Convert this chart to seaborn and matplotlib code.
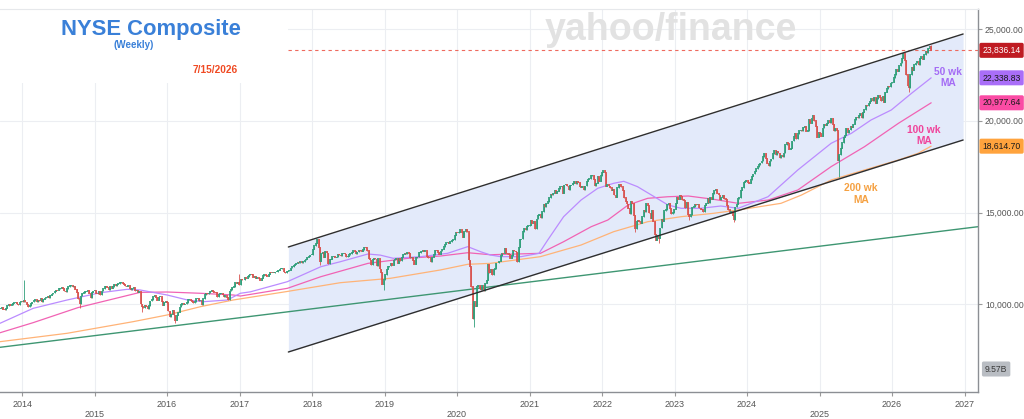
import numpy as np
import pandas as pd
import matplotlib
matplotlib.use("Agg")
import matplotlib.pyplot as plt
import matplotlib.dates as mdates
from matplotlib.patches import Rectangle
import seaborn as sns

# ---------------- data (weekly closes, Fridays from 2013-09-13) ----------------
c2013 = [9760, 9840, 9730, 9700, 9780, 9930, 9990, 9950, 9980, 10060, 10080, 10110, 10020, 9960, 10120, 10180]
c2014 = [10150, 10190, 10120, 9980, 9880, 9930, 10060, 10130, 10200, 10250, 10120, 10230, 10180,
         10300, 10120, 10280, 10350, 10380, 10420, 10350, 10480, 10560, 10620, 10700, 10780, 10760,
         10850, 10880, 10900, 10870, 10720, 10680, 10850, 10960, 11020, 11050, 10950, 11000, 10820,
         10650, 10300, 10020, 10450, 10600, 10640, 10700, 10720, 10760, 10600, 10350, 10650, 10720]
c2015 = [10750, 10600, 10580, 10700, 10520, 10720, 10850, 10980, 11000, 10930, 10800, 10950, 10880,
         10960, 11080, 11000, 11080, 11120, 11180, 11220, 11150, 11080, 11000, 10980, 11020, 10880,
         10800, 10850, 10900, 10720, 10760, 10650, 10680, 10020, 9880, 9800, 9960, 9900, 9750,
         9920, 10180, 10260, 10420, 10460, 10380, 10220, 10400, 10410, 10150, 9950, 10100, 10180]
c2016 = [10080, 9640, 9330, 9460, 9650, 9420, 9120, 9400, 9560, 9850, 9980, 10060, 10000,
         10020, 10080, 10250, 10280, 10220, 10160, 10080, 10150, 10300, 10320, 10180, 10200, 9980,
         10300, 10520, 10600, 10580, 10620, 10700, 10740, 10680, 10660, 10650, 10400, 10560, 10600, 10620,
         10500, 10420, 10460, 10380, 10250, 10720, 10800, 10920, 10960, 11180, 11150, 11180, 11060]
c2017 = [11360, 11320, 11330, 11450, 11420, 11500, 11600, 11640, 11620, 11480, 11540, 11420, 11450,
         11400, 11300, 11420, 11560, 11620, 11560, 11520, 11640, 11720, 11700, 11720, 11700, 11760,
         11770, 11860, 11920, 11950, 11960, 11760, 11720, 11800, 11820, 11850, 11980, 12050, 12120,
         12180, 12240, 12300, 12270, 12320, 12260, 12330, 12420, 12460, 12560, 12620, 12680, 12700]
c2018 = [13000, 13200, 13330, 13560, 13100, 12350, 12760, 12820, 12560, 12880, 12800, 12200, 12450,
         12450, 12600, 12620, 12560, 12580, 12720, 12680, 12640, 12780, 12800, 12740, 12600, 12620,
         12700, 12760, 12830, 12920, 12880, 12760, 12850, 12960, 12920, 12880, 12980, 13100, 13080,
         12920, 12500, 12420, 12150, 12460, 12520, 12470, 12080, 12480, 11920, 11720, 11080, 11350]
c2019 = [11620, 11900, 12050, 12080, 12210, 12120, 12420, 12460, 12480, 12230, 12500, 12360, 12560,
         12720, 12800, 12760, 12840, 12780, 12520, 12530, 12400, 12180, 12530, 12580, 12810, 12820,
         12890, 12940, 12880, 12930, 12600, 12540, 12520, 12300, 12560, 12700, 12940, 12920, 12840,
         12720, 12900, 13000, 13140, 13260, 13360, 13400, 13320, 13420, 13480, 13520, 13760, 13900]
c2020 = [13880, 13920, 14060, 13920, 13640, 13960, 14100, 13960, 12420, 12050, 10950, 9200, 10150,
         9900, 10950, 11050, 10850, 10800, 11050, 10750, 11150, 11300, 12200, 11700, 11900, 11600,
         11900, 11950, 12250, 12250, 12350, 12650, 12800, 12780, 13050, 12800, 12750, 12700, 12500,
         12650, 12950, 12900, 12850, 12300, 13100, 13550, 13560, 13950, 14150, 14050, 14250, 14280]
c2021 = [14300, 14550, 14420, 14500, 14120, 14650, 14850, 14900, 14700, 15050, 15450, 15300, 15500,
         15600, 15800, 16000, 15950, 16050, 16200, 16050, 16150, 16300, 16400, 16450, 16050, 16500,
         16550, 16450, 16250, 16480, 16500, 16600, 16700, 16550, 16720, 16650, 16420, 16380, 16450,
         16250, 16450, 16700, 16800, 16850, 17000, 17050, 16800, 16450, 16600, 16950, 16700, 17000, 17200]
c2022 = [17280, 17180, 16420, 16520, 16450, 16350, 16200, 16250, 15950, 15820, 16350, 16550,
         16520, 16400, 16200, 15800, 15620, 15460, 15220, 14930, 15600, 15500, 14850, 14100, 14520,
         14560, 14500, 14420, 14780, 15120, 15050, 15520, 15380, 14980, 14680, 15100, 14520, 13820, 13480,
         13760, 13600, 14150, 14620, 14520, 15100, 15150, 15420, 15500, 15200, 14920, 15000, 15180]
c2023 = [15500, 15820, 15720, 15950, 15880, 15700, 15650, 15250, 15550, 14900, 14780, 14880, 15280,
         15320, 15450, 15420, 15430, 15250, 15180, 15150, 15050, 15400, 15500, 15750, 15520, 15820,
         15720, 16020, 16180, 16250, 16050, 15950, 15680, 15800, 15950, 15750, 15700, 15380, 15150,
         14980, 15050, 14820, 14600, 15300, 15450, 15750, 15800, 16200, 16350, 16650, 16700, 16750]
c2024 = [16650, 16600, 16780, 16980, 17100, 17250, 17380, 17500, 17600, 17700, 17800, 18050, 18250,
         17950, 17680, 17550, 17800, 17920, 18200, 18400, 18150, 18350, 18250, 17980, 18100, 18050,
         18250, 18700, 18800, 18750, 18450, 18500, 18900, 19150, 19300, 19000, 19300, 19450, 19500,
         19450, 19650, 19700, 19420, 19450, 20050, 19850, 20150, 20280, 20000, 19700, 19100, 19350]
c2025 = [19300, 19150, 19600, 19800, 19750, 19850, 20000, 19900, 20150, 19800, 19450, 19600, 19450,
         17850, 18150, 18500, 18800, 19100, 19200, 19600, 19350, 19500, 19700, 19650, 19800, 20050,
         20200, 20150, 20300, 20400, 20150, 20450, 20600, 20850, 20800, 20950, 21050, 21200, 21100,
         21300, 20950, 21200, 21400, 21250, 21100, 21350, 21000, 21550, 21750, 21900, 21850, 22050]
c2026 = [22100, 22350, 22500, 22800, 22700, 23000, 23150, 23400, 23650, 23300, 22500, 21900, 21800,
         22500, 22900, 22750, 23050, 23150, 23250, 23050, 23400, 23500, 23350, 23600, 23800, 23700,
         23950, 24050, 23836.14]
first_week = "2013-09-13"

# notable wick extremes (week ending, price)
wick_dates = ["2014-01-10", "2014-10-17", "2015-08-28", "2016-02-12", "2016-12-30", "2018-02-09",
              "2018-12-28", "2020-03-27", "2022-06-17", "2022-10-14", "2023-03-17", "2023-10-27",
              "2025-04-11", "2026-03-27", "2026-07-17"]
wick_values = [11300, 9800, 9560, 8960, 11650, 12150, 10780, 8780, 13950, 13330, 14600, 14480,
               16950, 21580, 24130]

# moving averages
ma50_dates = ["2013-09-11", "2014-02-25", "2014-08-15", "2015-01-30", "2015-06-14", "2015-08-18", "2016-01-01",
              "2016-04-13", "2016-07-02", "2016-10-31", "2017-01-04", "2017-02-24", "2017-08-29", "2018-02-14",
              "2018-05-23", "2018-10-09", "2018-12-10", "2019-02-14", "2019-07-02", "2019-11-14", "2020-02-24",
              "2020-04-30", "2020-06-17", "2020-08-08", "2020-11-18", "2021-02-17", "2021-04-02", "2021-06-21",
              "2021-09-17", "2021-12-10", "2022-02-28", "2022-04-20", "2022-06-28", "2022-09-21", "2022-11-29",
              "2023-02-03", "2023-05-12", "2023-08-22", "2023-11-18", "2024-04-16", "2024-09-13", "2025-02-28",
              "2025-06-10", "2025-09-17", "2025-12-28", "2026-04-09", "2026-07-17"]
ma50 = [8965, 9780, 10234, 10632, 10817, 10780, 10507, 10234, 10142, 10234, 10600, 10680, 11232, 12050,
        12320, 12740, 12680, 12505, 12595, 12777, 13140, 12860, 12686, 12595, 12595, 12777, 13503, 14773,
        15682, 16320, 16592, 16700, 16410, 15860, 15410, 15230, 15230, 15355, 15230, 15860, 17317, 18771,
        19316, 20041, 20585, 21495, 22338.83]
ma100_dates = ["2013-09-11", "2014-02-25", "2014-10-09", "2015-08-18", "2016-01-01", "2016-06-17", "2016-11-29",
               "2017-01-04", "2017-08-29", "2018-02-14", "2018-10-09", "2019-04-27", "2019-10-09", "2020-02-24",
               "2020-06-17", "2021-02-24", "2021-06-21", "2021-11-07", "2022-01-30", "2022-05-12", "2022-08-19",
               "2022-11-29", "2023-03-11", "2023-07-17", "2023-11-18", "2024-04-16", "2024-09-13", "2025-02-28",
               "2025-08-15", "2026-02-02", "2026-07-17"]
ma100 = [8450, 9000, 9820, 10650, 10670, 10600, 10507, 10450, 10870, 11505, 12230, 12505, 12630, 12810,
         12700, 12777, 13410, 14228, 14593, 15410, 15775, 15860, 15900, 15720, 15500, 15680, 16227, 17500,
         18586, 19860, 20977.64]
ma200_dates = ["2013-09-11", "2014-08-15", "2015-07-13", "2016-01-01", "2016-06-17", "2016-11-29", "2017-08-29",
               "2018-05-23", "2019-01-30", "2019-10-09", "2020-02-24", "2020-06-17", "2021-02-24", "2021-09-17",
               "2022-02-28", "2022-08-19", "2023-02-03", "2023-07-17", "2023-11-18", "2024-06-20", "2024-10-01",
               "2025-02-28", "2025-08-15", "2026-02-02", "2026-05-12", "2026-07-17"]
ma200 = [7963, 8420, 9052, 9417, 9870, 10234, 10700, 11177, 11416, 11870, 12180, 12230, 12595, 13230,
         13955, 14500, 14773, 14958, 15137, 15500, 15950, 16772, 17317, 17861, 18226, 18614.70]

# drawn channel and trend line
channel_dates = ["2017-09-03", "2026-12-25"]
channel_upper = [13122, 24726]
channel_lower = [7401, 18951]
trend_dates = ["2013-09-11", "2027-03-10"]
trend_values = [7657, 14228]
last_price = 23836.14
tag_values = [23836.14, 22338.83, 20977.64, 18614.70]
volume_label = "9.57B"
volume_level = 6475

year_ticks = list(range(2014, 2028))
ytick_values = [10000, 15000, 20000, 25000]
x_limits = ["2013-09-11", "2027-03-10"]
y_limits = [5222, 26088]

# ---------------- style ----------------
sns.set_theme(style="white")
plt.rcParams["font.family"] = ["Liberation Sans", "DejaVu Sans"]

W, H = 1024, 419
fig = plt.figure(figsize=(W / 100, H / 100), dpi=100)
ax = fig.add_axes([0, 27 / H, 978 / W, 383 / H])


def dn(seq):
    return mdates.date2num(pd.to_datetime(seq))


closes = np.array(c2013 + c2014 + c2015 + c2016 + c2017 + c2018 + c2019 + c2020 + c2021 +
                  c2022 + c2023 + c2024 + c2025 + c2026, dtype=float)
dates = pd.date_range(first_week, periods=len(closes), freq="W-FRI")
xd = mdates.date2num(dates)
opens = np.r_[closes[0], closes[:-1]]
highs = np.maximum(opens, closes)
lows = np.minimum(opens, closes)
for d, v in zip(pd.to_datetime(wick_dates), wick_values):
    i = int(np.argmin(np.abs(dates - d)))
    highs[i] = max(highs[i], v)
    lows[i] = min(lows[i], v)

# channel
cx = dn(channel_dates)
ax.fill_between(cx, channel_lower, channel_upper, color="#e3eafa", lw=0, zorder=1)

# white backdrop behind title
ax.add_patch(Rectangle((0, 1 - 83 / H), 288 / W, 83 / H, transform=fig.transFigure,
                       fc="white", ec="none", zorder=1.5, clip_on=False))

# trend line
sns.lineplot(x=dn(trend_dates), y=trend_values, ax=ax, color="#3e9672", lw=1.0, zorder=2)

# moving averages
sns.lineplot(x=dn(ma200_dates), y=ma200, ax=ax, color="#ffb377", lw=0.9, zorder=3)
sns.lineplot(x=dn(ma100_dates), y=ma100, ax=ax, color="#f163b4", lw=0.9, zorder=3)
sns.lineplot(x=dn(ma50_dates), y=ma50, ax=ax, color="#bb8cff", lw=0.9, zorder=3)

# candles
up = closes >= opens
col = np.where(up, "#2f9f7a", "#d9534f")
ax.vlines(xd, lows, highs, colors=col, lw=0.6, zorder=4)
ax.vlines(xd, np.minimum(opens, closes) - 20, np.maximum(opens, closes) + 20, colors=col,
          lw=1.25, zorder=4)

# channel borders
ax.plot(cx, channel_upper, color="#2e2e2e", lw=1.0, zorder=5)
ax.plot(cx, channel_lower, color="#2e2e2e", lw=1.0, zorder=5)

# current price dashed line
ax.hlines(last_price, cx[0], dn(x_limits)[1], colors="#ee6a5e", lw=0.8,
          linestyles=(0, (3, 3)), zorder=2)

# axes
xl = dn(x_limits)
ax.set_xlim(xl[0], xl[1])
ax.set_ylim(*y_limits)
ax.set_xlabel("")
ax.set_ylabel("")
ax.grid(True, color="#eceef2", lw=0.8)
ax.set_axisbelow(True)

ax.set_xticks(dn([f"{y}-01-01" for y in year_ticks]))
ax.set_xticklabels([("\n" + str(y)) if y % 5 == 0 else str(y) for y in year_ticks])
ax.tick_params(axis="x", length=3, width=0.8, color="#9a9a9a", labelsize=6.5,
               labelcolor="#555555", pad=2.5, bottom=True)
ax.yaxis.tick_right()
ax.set_yticks(ytick_values)
ax.set_yticklabels([f"{v:,.2f}" for v in ytick_values])
ax.tick_params(axis="y", length=3, width=0.8, color="#9a9a9a", labelsize=6.2,
               labelcolor="#555555", pad=2, right=True)

ax.spines["left"].set_visible(False)
ax.spines["top"].set_color("#e6e8eb")
ax.spines["top"].set_linewidth(0.8)
for s in ("right", "bottom"):
    ax.spines[s].set_color("#8c8f94")
    ax.spines[s].set_linewidth(1.0)

# price tags on the right
tag_fc = ["#bf1b22", "#a96ef8", "#fa4ba4", "#ffa33d"]
tag_tc = ["white", "#1a1a1a", "#1a1a1a", "#1a1a1a"]
for v, fc, tc in zip(tag_values, tag_fc, tag_tc):
    ax.annotate(f"{v:,.2f}", xy=(1, v), xycoords=("axes fraction", "data"),
                xytext=(3.2, 0), textcoords="offset points", ha="left", va="center",
                fontsize=6.2, color=tc, annotation_clip=False, zorder=10,
                bbox=dict(boxstyle="round,pad=0.35,rounding_size=0.2", fc=fc, ec="none"))
ax.annotate(volume_label, xy=(1, volume_level), xycoords=("axes fraction", "data"),
            xytext=(5, 0), textcoords="offset points", ha="left", va="center",
            fontsize=6.2, color="#3a3a3a", annotation_clip=False, zorder=10,
            bbox=dict(boxstyle="round,pad=0.35,rounding_size=0.2", fc="#b9bdc3", ec="none"))

# texts
fig.text(150.5 / W, 1 - 35 / H, "NYSE Composite", ha="center", va="baseline",
         fontsize=15.8, fontweight="bold", color="#3a80d8")
fig.text(134 / W, 1 - 48.5 / H, "(Weekly)", ha="center", va="baseline",
         fontsize=7, fontweight="bold", color="#3a80d8")
fig.text(215.5 / W, 1 - 73 / H, "7/15/2026", ha="center", va="baseline",
         fontsize=7.3, fontweight="bold", color="#f04a23")
fig.text(671 / W, 1 - 30 / H, "yahoo/finance", ha="center", va="center",
         fontsize=27, fontweight="bold", color="#e2e2e2", zorder=0.5)

fig.text(948 / W, 1 - 77.5 / H, "50 wk\nMA", ha="center", va="center", fontsize=7.4,
         fontweight="bold", color="#a46cf5", linespacing=1.15)
fig.text(924 / W, 1 - 135.5 / H, "100 wk\nMA", ha="center", va="center", fontsize=7.4,
         fontweight="bold", color="#f0449b", linespacing=1.15)
fig.text(861 / W, 1 - 194 / H, "200 wk\nMA", ha="center", va="center", fontsize=7.4,
         fontweight="bold", color="#f5a142", linespacing=1.15)

fig.savefig("out.png", dpi=100, facecolor="white")
